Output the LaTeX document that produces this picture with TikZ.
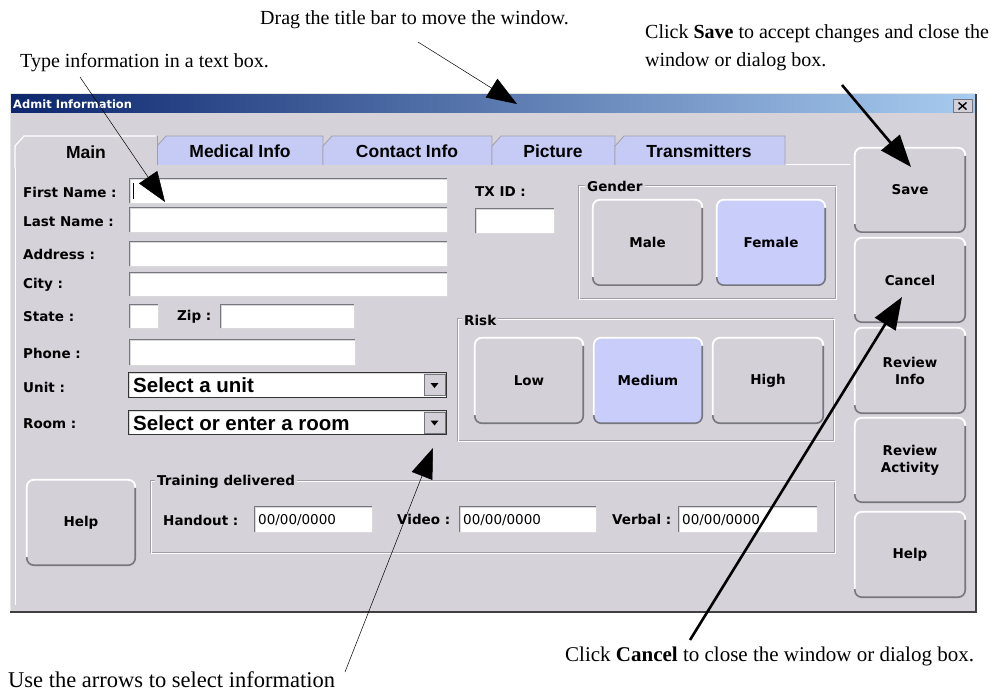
\documentclass[tikz,border=0pt]{standalone}
\usepackage{fontspec}
\setmainfont{Liberation Serif}
\newfontfamily\uifont{DejaVu Sans}
\newfontfamily\arialfont{Liberation Sans}
\usetikzlibrary{arrows.meta}
\definecolor{winbg}{RGB}{213,210,217}
\definecolor{btnbg}{RGB}{211,208,215}
\definecolor{selblue}{RGB}{201,205,250}
\definecolor{tabblue}{RGB}{198,203,246}
\definecolor{titledark}{RGB}{12,38,110}
\definecolor{titlelight}{RGB}{168,204,240}
\definecolor{shadowc}{RGB}{118,118,126}
\definecolor{etch}{RGB}{160,158,166}
\newcommand\fieldbox[5]{%
  \node[fieldst, minimum width={#4-#2}, minimum height={#5-#3}] (#1) at ({(#2+#4)/2},{(#3+#5)/2}) {};
  \draw[shadowc, line width=1pt] (#1.south west) -- (#1.north west) -- (#1.north east);
}
\newcommand\uibtn[7]{%
  \node[btnst, fill=#6, minimum width={#4-#2}, minimum height={#5-#3}] (#1) at ({(#2+#4)/2},{(#3+#5)/2}) {#7};
  \draw[white, line width=1.8pt, rounded corners=7pt] ([yshift=8pt]#1.south west) -- (#1.north west) -- (#1.north east) -- ([yshift=-8pt]#1.north east);
  \draw[shadowc, line width=1.6pt, rounded corners=7pt] ([yshift=8pt]#1.south west) -- (#1.south west) -- (#1.south east) -- ([yshift=-8pt]#1.north east);
}
\newcommand\ddbutton[2]{%
  \node[ddst] (#1) at (#2) {};
  \fill ([xshift=-4pt,yshift=2pt]#1.center) -- ([xshift=4pt,yshift=2pt]#1.center) -- ([yshift=-3pt]#1.center) -- cycle;
}
\begin{document}
\begin{tikzpicture}[x=1pt,y=-1pt,
  fieldst/.style={rectangle, fill=white, draw=white!85!black, line width=0.8pt, inner sep=0pt},
  btnst/.style={rectangle, rounded corners=7pt, inner sep=0pt, align=center,
    font=\uifont\bfseries\fontsize{13.5}{17}\selectfont},
  ddst/.style={rectangle, fill=btnbg, draw=shadowc, line width=0.6pt, minimum width=21pt, minimum height=21pt, inner sep=0pt},
  uilabel/.style={anchor=west, inner sep=0pt, font=\uifont\bfseries\fontsize{13.5}{16}\selectfont},
  grplabel/.style={uilabel, fill=winbg, inner xsep=2pt, inner ysep=1pt},
  datetext/.style={anchor=west, inner sep=0pt, font=\uifont\fontsize{13.5}{16}\selectfont},
  combotext/.style={anchor=west, inner sep=0pt, font=\arialfont\bfseries\fontsize{20.5}{24}\selectfont},
  tablabel/.style={inner sep=0pt, font=\arialfont\bfseries\fontsize{17.5}{20}\selectfont},
  note/.style={inner sep=0pt, font=\fontsize{20}{28}\selectfont},
  grpbox/.style={draw=etch, line width=0.8pt},
  tabst/.style={fill=tabblue, draw=etch, line width=0.8pt},
  ptr/.style={-{Triangle[length=30pt,width=22pt]}, line width=0.5pt},
  boldptr/.style={-{Triangle[length=32pt,width=24pt]}, line width=2.6pt}
]
\useasboundingbox (0,0) rectangle (995,692);
\fill[white] (0,0) rectangle (995,692);

% window
\fill[winbg] (10,94) rectangle (976,612);
\shade[left color=titledark, right color=titlelight] (10,95) rectangle (976,113);
\draw[white!80!gray, line width=1pt] (10,612) -- (10,94) -- (976,94);
\draw[black!75, line width=1.5pt] (10,612) -- (976,612) -- (976,94);
\node[anchor=west, inner sep=0pt, text=white, font=\uifont\bfseries\fontsize{11.5}{14}\selectfont] (title) at (13,104) {Admit Information};
\node[rectangle, fill=btnbg, draw=shadowc, line width=0.6pt, minimum width=19pt, minimum height=13pt, inner sep=0pt] (closebtn) at (962.5,106) {};
\draw[line width=1.4pt] ([xshift=-4pt,yshift=3.5pt]closebtn.center) -- ([xshift=4pt,yshift=-3.5pt]closebtn.center);
\draw[line width=1.4pt] ([xshift=-4pt,yshift=-3.5pt]closebtn.center) -- ([xshift=4pt,yshift=3.5pt]closebtn.center);

% panel lines
\draw[white, line width=1pt] (15,605) -- (15,165);
\draw[white, line width=1pt] (157,165) -- (850,165);

% tabs
\draw[tabst] (157,165) -- (157,146) -- (166,136) -- (323,136) -- (323,165);
\draw[tabst] (323,165) -- (323,146) -- (332,136) -- (492,136) -- (492,165);
\draw[tabst] (492,165) -- (492,146) -- (501,136) -- (615,136) -- (615,165);
\draw[tabst] (615,165) -- (615,146) -- (624,136) -- (785,136) -- (785,165);
\fill[winbg] (15,168) -- (15,146) -- (24,136) -- (157,136) -- (157,168) -- cycle;
\draw[white, line width=1.2pt] (15,168) -- (15,146) -- (24,136) -- (156,136);
\draw[etch, line width=0.8pt] (157,136) -- (157,165);
\node[tablabel] (tmain) at (86,152) {Main};
\node[tablabel] (tmed) at (240,151) {Medical Info};
\node[tablabel] (tcon) at (407,151) {Contact Info};
\node[tablabel] (tpic) at (553,151) {Picture};
\node[tablabel] (ttra) at (699,151) {Transmitters};

% left labels
\node[uilabel] (lfirst) at (23,192) {First Name :};
\node[uilabel] (llast) at (23,222) {Last Name :};
\node[uilabel] (laddr) at (23,254) {Address :};
\node[uilabel] (lcity) at (23,285) {City :};
\node[uilabel] (lstate) at (23,317) {State :};
\node[uilabel] (lzip) at (177,317) {Zip :};
\node[uilabel] (lphone) at (23,353) {Phone :};
\node[uilabel] (lunit) at (23,387) {Unit :};
\node[uilabel] (lroom) at (23,424) {Room :};

% fields
\fieldbox{ffirst}{130}{179}{447}{203}
\draw[black, line width=1pt] (133,183) -- (133,199);
\fieldbox{flast}{130}{208}{447}{232}
\fieldbox{faddr}{130}{242}{447}{266}
\fieldbox{fcity}{130}{273}{447}{296}
\fieldbox{fstate}{130}{305}{158}{328}
\fieldbox{fzip}{221}{305}{354}{328}
\fieldbox{fphone}{130}{340}{355}{365}
\fieldbox{funit}{129}{373}{446}{397}
\draw[black!80, line width=0.8pt] (funit.south west) rectangle (funit.north east);
\ddbutton{unitdd}{434.5,385}
\node[combotext] (tunit) at (133,385) {Select a unit};
\fieldbox{froom}{129}{411}{446}{434}
\draw[black!80, line width=0.8pt] (froom.south west) rectangle (froom.north east);
\ddbutton{roomdd}{434.5,422.5}
\node[combotext] (troom) at (133,423) {Select or enter a room};

% TX ID
\node[uilabel] (ltx) at (475,192) {TX ID :};
\fieldbox{ftx}{476}{209}{554}{233}

% Gender
\draw[grpbox] (578,185) rectangle (835,298);
\draw[white, line width=0.6pt] (579,186) rectangle (836,299);
\node[grplabel] (lgender) at (585,186) {Gender};
\uibtn{male}{593}{200}{702}{285}{btnbg}{Male}
\uibtn{female}{717}{200}{825}{285}{selblue}{Female}

% Risk
\draw[grpbox] (457,318) rectangle (833,440);
\draw[white, line width=0.6pt] (458,319) rectangle (834,441);
\node[grplabel] (lrisk) at (462,320) {Risk};
\uibtn{low}{475}{338}{583}{423}{btnbg}{Low}
\uibtn{medium}{594}{338}{702}{423}{selblue}{Medium}
\uibtn{high}{713}{338}{823}{423}{btnbg}{High}

% Training
\draw[grpbox] (150,480) rectangle (834,552);
\draw[white, line width=0.6pt] (151,481) rectangle (835,553);
\node[grplabel] (ltrain) at (155,482) {Training delivered};
\node[uilabel] (lhand) at (163,520) {Handout :};
\fieldbox{fhand}{255}{507}{372}{532}
\node[datetext] (thand) at (258,520) {00/00/0000};
\node[uilabel] (lvideo) at (397,519) {Video :};
\fieldbox{fvideo}{460}{507}{596}{532}
\node[datetext] (tvideo) at (463,520) {00/00/0000};
\node[uilabel] (lverbal) at (612,519) {Verbal :};
\fieldbox{fverbal}{679}{507}{817}{532}
\node[datetext] (tverbal) at (682,520) {00/00/0000};

% Help left
\uibtn{helpleft}{27}{480}{135}{565}{btnbg}{Help}

% right buttons
\uibtn{save}{855}{148}{965}{232}{btnbg}{Save}
\uibtn{cancel}{855}{238}{965}{322}{btnbg}{Cancel}
\uibtn{revinfo}{855}{328}{965}{413}{btnbg}{Review\\Info}
\uibtn{revact}{855}{418}{965}{502}{btnbg}{Review\\Activity}
\uibtn{helpright}{855}{512}{965}{597}{btnbg}{Help}

% annotations
\node[note, anchor=west] (dragnote) at (260,20) {Drag the title bar to move the window.};
\node[note, anchor=west] (typenote) at (20,63) {Type information in a text box.};
\node[note, anchor=north west, align=left] (savenote) at (645,24) {Click \textbf{Save} to accept changes and close the\\window or dialog box.};
\node[note, anchor=west, font=\fontsize{22.5}{27}\selectfont] (usenote) at (8,680) {Use the arrows to select information};
\node[note, anchor=west, font=\fontsize{21}{26}\selectfont] (cancelnote) at (565,656) {Click \textbf{Cancel} to close the window or dialog box.};

\coordinate (dragA) at (418,42);
\coordinate (dragB) at (517,104);
\coordinate (typeA) at (80,77);
\coordinate (typeB) at (165,202);
\coordinate (saveA) at (842,85);
\coordinate (saveB) at (911,167);
\coordinate (cancelA) at (690,640);
\coordinate (cancelB) at (902,297);
\coordinate (useA) at (345,672);
\coordinate (useB) at (433,448);

\draw[ptr] (dragA) -- (dragB);
\draw[ptr] (typeA) -- (typeB);
\draw[ptr] (useA) -- (useB);
\draw[boldptr] (saveA) -- (saveB);
\draw[boldptr] (cancelA) -- (cancelB);
\end{tikzpicture}
\end{document}
